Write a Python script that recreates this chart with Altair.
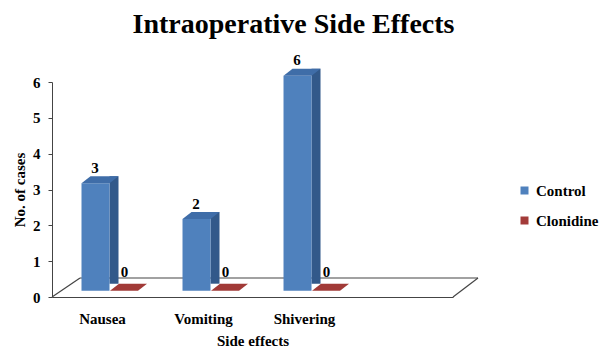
import altair as alt
import pandas as pd

categories = ["Nausea", "Vomiting", "Shivering"]
control = [3, 2, 6]
clonidine = [0, 0, 0]
series_names = ["Control", "Clonidine"]
y_ticks = [0, 1, 2, 3, 4, 5, 6]

rows = []
for c, v in zip(categories, control):
    rows.append({"category": c, "series": "Control", "value": v})
for c, v in zip(categories, clonidine):
    rows.append({"category": c, "series": "Clonidine", "value": v})
df = pd.DataFrame(rows)

FONT = "Liberation Serif"
W, H = 401, 215
BLUE_FRONT = "#4F81BD"
BLUE_SIDE = "#32598A"
BLUE_TOP = "#3F6DA8"
RED = "#A33B39"
RED_TOP = "#A13A37"
LINE = "#444444"
TOP_SHAPE = "M-1.4,0L1.4,0L2.3,-0.7L-0.5,-0.7Z"

x_enc = alt.X(
    "category:N", sort=categories,
    scale=alt.Scale(paddingInner=0, paddingOuter=0.485, align=0),
    axis=alt.Axis(
        title="Side effects", labelAngle=0, ticks=False, labelPadding=26,
        labelBaseline="alphabetic", labelFont=FONT, labelFontSize=15,
        labelFontWeight="bold", labelColor="black", titleFont=FONT,
        titleFontSize=15, titleFontWeight="bold", titleColor="black",
        titleBaseline="alphabetic", titleY=48, domainColor=LINE, domainWidth=1.2,
    ),
)
y_enc = alt.Y(
    "value:Q", scale=alt.Scale(domain=[0, 6], nice=False),
    axis=alt.Axis(
        values=y_ticks, title="No. of cases", grid=False, tickSize=4,
        tickColor=LINE, domainColor=LINE, labelPadding=8, labelFont=FONT,
        labelFontSize=15, labelFontWeight="bold", labelColor="black",
        titleFont=FONT, titleFontSize=15, titleFontWeight="bold",
        titleColor="black", titleX=-28, titleY=H / 2, titleBaseline="alphabetic",
    ),
)

base = alt.Chart(df)
ctrl = base.transform_filter(alt.datum.series == "Control")
clon = base.transform_filter(alt.datum.series == "Clonidine")

one = alt.Chart(alt.Data(values=[{"k": 1}]))
floor_left = one.mark_rule(color=LINE, strokeWidth=1.2).encode(
    x=alt.value(0), x2=alt.value(28), y=alt.value(H), y2=alt.value(H - 19))
floor_back = one.mark_rule(color=LINE, strokeWidth=1.2).encode(
    x=alt.value(28), x2=alt.value(426), y=alt.value(H - 19), y2=alt.value(H - 19))
floor_right = one.mark_rule(color=LINE, strokeWidth=1.2).encode(
    x=alt.value(426), x2=alt.value(401), y=alt.value(H - 19), y2=alt.value(H))

side = ctrl.mark_bar(width=9, xOffset=-7 + 14 + 4.5, yOffset=-13.3, y2Offset=-6.3,
                     color=BLUE_SIDE).encode(x=x_enc, y=y_enc)
front = ctrl.mark_bar(width=28, xOffset=-7, yOffset=-6.3, y2Offset=-6.3).encode(
    x=x_enc, y=y_enc,
    color=alt.Color(
        "series:N", scale=alt.Scale(domain=series_names, range=[BLUE_FRONT, RED]),
        legend=alt.Legend(
            title=None, orient="none", legendX=465, legendY=101, symbolType="square",
            symbolSize=64, symbolStrokeWidth=0, labelFont=FONT, labelFontSize=15,
            labelFontWeight="bold", labelColor="black", rowPadding=14, labelOffset=4,
        ),
    ),
)
top = ctrl.mark_point(shape=TOP_SHAPE, size=400, filled=True, opacity=1, strokeWidth=0,
                      color=BLUE_TOP, xOffset=-7, yOffset=-6.3).encode(x=x_enc, y=y_enc)
red_top = clon.mark_point(shape=TOP_SHAPE, size=400, filled=True, opacity=1, strokeWidth=0,
                          color=RED_TOP, xOffset=21.5, yOffset=-6.3).encode(x=x_enc, y=y_enc)

ctrl_lab = ctrl.mark_text(font=FONT, fontSize=15, fontWeight="bold", color="black",
                          baseline="alphabetic", dx=-7.5, dy=-16.6).encode(
    x=x_enc, y=y_enc, text="value:Q")
clon_lab = clon.mark_text(font=FONT, fontSize=15, fontWeight="bold", color="black",
                          baseline="alphabetic", dx=22, dy=-20.3).encode(
    x=x_enc, y=y_enc, text="value:Q")

chart = alt.layer(
    floor_left, floor_back, floor_right, side, front, top, red_top, ctrl_lab, clon_lab
).properties(
    width=W, height=H,
    background="white",
    title=alt.TitleParams(
        "Intraoperative Side Effects", font=FONT, fontSize=28, fontWeight="bold",
        color="black", anchor="middle", frame="group", dx=41, offset=14,
    ),
    autosize=alt.AutoSizeParams(type="none"),
    padding={"left": 52, "top": 82, "right": 147, "bottom": 60},
).configure_view(strokeWidth=0, stroke="transparent")

chart.save("out.html", embed_options={"renderer": "svg", "actions": False})
